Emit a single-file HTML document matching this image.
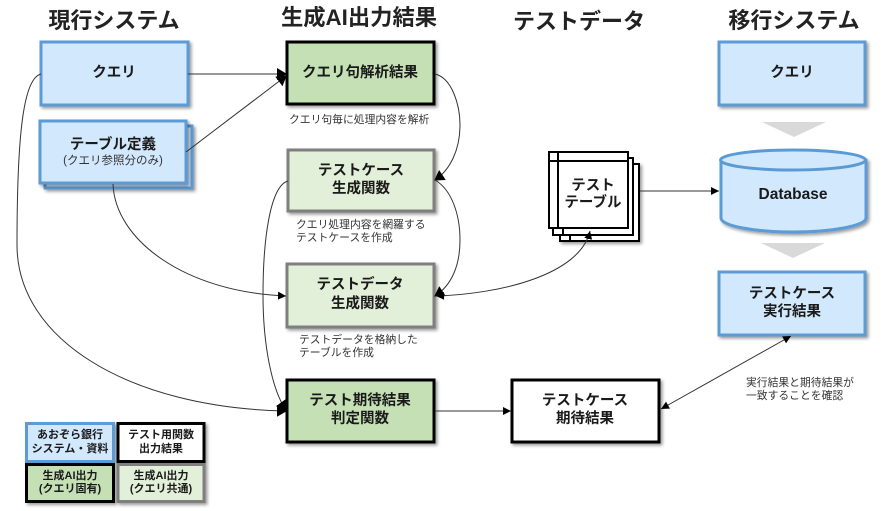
<!DOCTYPE html>
<html><head><meta charset="utf-8"><style>
html,body{margin:0;padding:0;background:#fff}
svg{display:block}
text{font-family:"Liberation Sans","Noto Sans CJK JP",sans-serif;text-anchor:middle;fill:#1a1a1a}
.h{font-size:22px;font-weight:700;fill:#222}
.b{font-size:14.5px;font-weight:700}
.s{font-size:10.8px;fill:#333;text-anchor:start}
.l{font-size:11px;font-weight:700}
.c{fill:none;stroke:#333;stroke-width:1}
.blue{fill:#d2e8fd;stroke:#5b9bd5;stroke-width:3;filter:url(#sh)}
.gd{fill:#c5e0b4;stroke:#000;stroke-width:3;filter:url(#sh)}
.gl{fill:#e2f0d9;stroke:#7f7f7f;stroke-width:3;filter:url(#sh)}
.wh{fill:#fff;stroke:#000;stroke-width:3;filter:url(#sh)}
</style></head><body>
<svg width="886" height="511" viewBox="0 0 886 511" xmlns="http://www.w3.org/2000/svg">
<defs>
<filter id="sh" x="-10%" y="-10%" width="125%" height="130%"><feDropShadow dx="2" dy="2" stdDeviation="1.5" flood-color="#000" flood-opacity=".4"/></filter>
<marker id="a" markerWidth="9" markerHeight="9" refX="8" refY="4" orient="auto" markerUnits="userSpaceOnUse"><path d="M0 0L8 4L0 8Z" fill="#000"/></marker>
<marker id="A" markerWidth="11" markerHeight="13" refX="9" refY="6" orient="auto" markerUnits="userSpaceOnUse"><path d="M0 0L10 6L0 12Z" fill="#000"/></marker>
<marker id="as" markerWidth="9" markerHeight="9" refX="0" refY="4" orient="auto" markerUnits="userSpaceOnUse"><path d="M8 0L0 4L8 8Z" fill="#000"/></marker>
</defs>

<text class="h" x="114" y="28">現行システム</text>
<text class="h" x="359" y="25" style="font-size:22.300px">生成AI出力結果</text>
<text class="h" x="579" y="29">テストデータ</text>
<text class="h" x="794" y="28">移行システム</text>

<!-- left -->
<rect class="blue" x="41" y="42" width="147" height="63"/>
<text class="b" x="114" y="77">クエリ</text>
<rect class="blue" x="45" y="126" width="147" height="62"/>
<rect class="blue" x="40" y="121" width="146" height="62"/>
<text class="b" x="113" y="149">テーブル定義</text>
<text x="113" y="164" style="font-size:11.500px;fill:#333">(クエリ参照分のみ)</text>

<!-- green -->
<rect class="gd" x="287" y="42" width="147" height="62"/>
<text class="b" x="360" y="77">クエリ句解析結果</text>
<text class="s" x="289" y="123">クエリ句毎に処理内容を解析</text>

<rect class="gl" x="288" y="150" width="146" height="61"/>
<text class="b" x="361" y="175">テストケース</text>
<text class="b" x="361" y="193">生成関数</text>
<text class="s" x="296" y="228">クエリ処理内容を網羅する</text>
<text class="s" x="296" y="241">テストケースを作成</text>

<rect class="gl" x="287" y="264" width="147" height="63"/>
<text class="b" x="360" y="289">テストデータ</text>
<text class="b" x="360" y="308">生成関数</text>
<text class="s" x="299" y="343">テストデータを格納した</text>
<text class="s" x="299" y="356">テーブルを作成</text>

<rect class="gd" x="287" y="380" width="147" height="62"/>
<text class="b" x="360" y="405">テスト期待結果</text>
<text class="b" x="360" y="423">判定関数</text>

<rect class="wh" x="512" y="380" width="147" height="62"/>
<text class="b" x="585" y="405">テストケース</text>
<text class="b" x="585" y="423">期待結果</text>

<!-- test table stack -->
<g fill="#fff" stroke="#000" stroke-width="2">
<rect x="560" y="164" width="79" height="77" filter="url(#sh)"/>
<path d="M570 164V241" fill="none"/>
<rect x="553" y="158" width="80" height="77"/>
<path d="M563 158V235" fill="none"/>
<rect x="549" y="152" width="79" height="76"/>
<path d="M558 152V228M549 161H628" fill="none"/>
</g>
<text class="b" x="593" y="190">テスト</text>
<text class="b" x="593" y="207">テーブル</text>

<!-- right -->
<rect class="blue" x="719" y="42" width="146" height="63"/>
<text class="b" x="792" y="77">クエリ</text>
<path d="M762 122H826L794 137Z" fill="#d9d9d9"/>
<path d="M721 160V218C721 226 755 232 793 232C831 232 866 226 866 218V160Z" class="blue"/>
<ellipse cx="793" cy="160" rx="72.500" ry="10" fill="#d2e8fd" stroke="#5b9bd5" stroke-width="3"/>
<text class="b" x="793" y="199" style="font-size:15.500px">Database</text>
<path d="M761 243H825L793 258Z" fill="#d9d9d9"/>
<rect class="blue" x="719" y="272" width="146" height="63"/>
<text class="b" x="792" y="298">テストケース</text>
<text class="b" x="792" y="316">実行結果</text>
<text class="s" x="746" y="386">実行結果と期待結果が</text>
<text class="s" x="746" y="399">一致することを確認</text>

<!-- connectors -->
<path class="c" d="M188 74H286" marker-end="url(#A)"/>
<path class="c" d="M186 152L286 76" marker-end="url(#A)"/>
<path class="c" d="M41 74C24 78 17 130 17 245C17 340 130 408 286 411" marker-end="url(#A)"/>
<path class="c" d="M113 184C115 240 185 292 286 296" marker-end="url(#a)"/>
<path class="c" d="M288 181C270 186 263 240 263 295C263 345 272 390 286 410" marker-end="url(#A)"/>
<path class="c" d="M435 74C452 78 460 105 460 125C460 150 450 170 435 180" marker-end="url(#A)"/>
<path class="c" d="M435 180C452 190 460 215 460 240C460 265 452 285 435 296" marker-end="url(#A)"/>
<path class="c" d="M436 296C500 294 580 275 590 231" marker-start="url(#as)" marker-end="url(#a)"/>
<path class="c" d="M640 191H719" marker-end="url(#a)"/>
<path class="c" d="M435 411H511" marker-end="url(#a)"/>
<path class="c" d="M661 409L791 336" marker-start="url(#as)" marker-end="url(#a)"/>

<!-- legend -->
<rect class="blue" x="26.500" y="423.500" width="87" height="38"/>
<text class="l" x="70" y="438">あおぞら銀行</text>
<text class="l" x="70" y="452">システム・資料</text>
<rect class="wh" x="118" y="423.500" width="86" height="38"/>
<text class="l" x="161" y="438">テスト用関数</text>
<text class="l" x="161" y="452">出力結果</text>
<rect class="gd" x="26.500" y="464.500" width="87" height="37"/>
<text class="l" x="70" y="479">生成AI出力</text>
<text class="l" x="70" y="492">(クエリ固有)</text>
<rect class="gl" x="118" y="464.500" width="86" height="37"/>
<text class="l" x="161" y="479">生成AI出力</text>
<text class="l" x="161" y="492">(クエリ共通)</text>
</svg>
</body></html>
